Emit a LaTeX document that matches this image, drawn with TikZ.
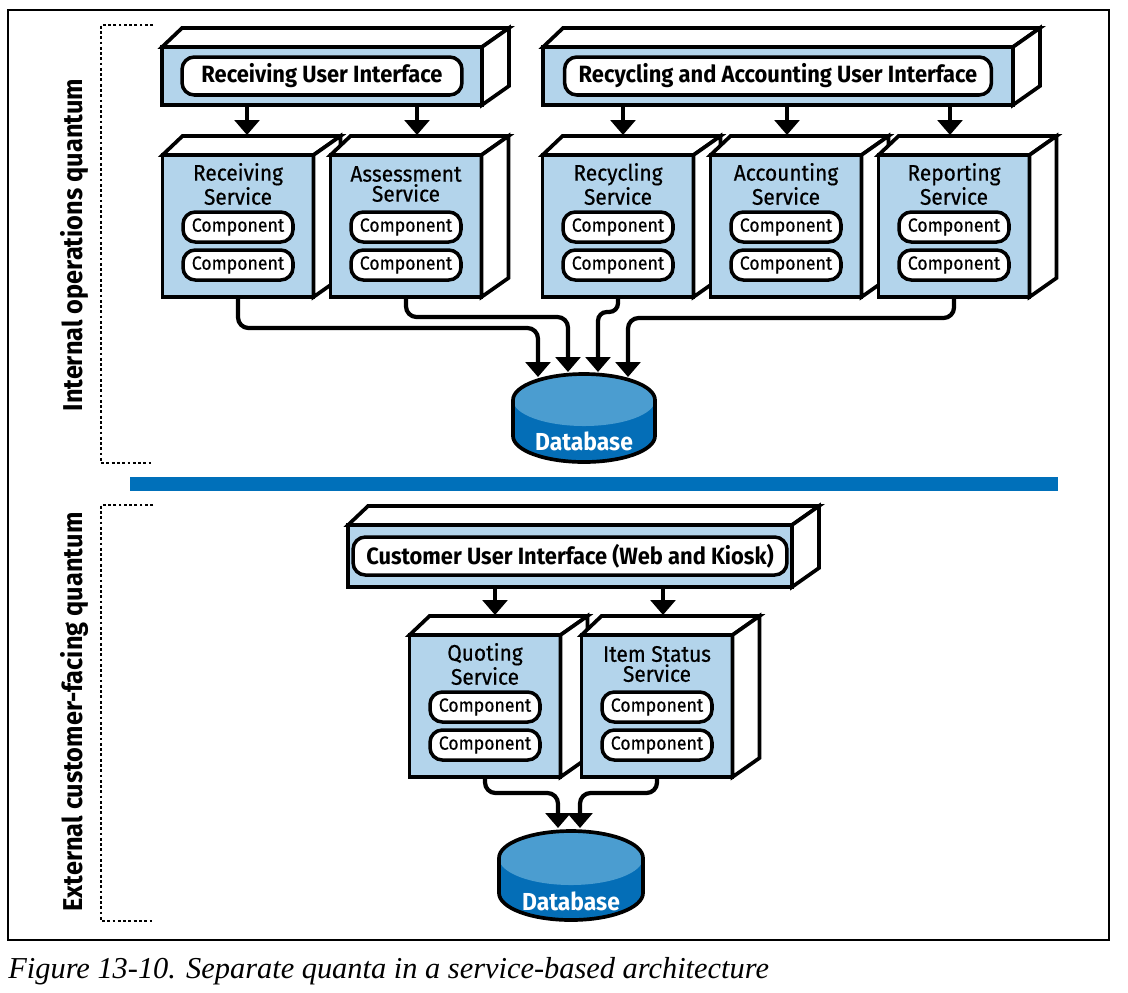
\documentclass[tikz,border=0pt]{standalone}
\usepackage{fontspec}
\newfontfamily\diagsans[FakeStretch=0.93]{Fira Sans}
\newfontfamily\diagmed[FakeStretch=0.93, FakeBold=0.5]{Fira Sans}
\newfontfamily\capserif{Liberation Serif}
\usetikzlibrary{arrows.meta,calc}
\definecolor{facefill}{RGB}{179,212,235}
\definecolor{barblue}{RGB}{0,112,186}
\definecolor{dbtop}{RGB}{75,157,208}
\definecolor{dbbody}{RGB}{4,110,183}
\begin{document}
\begin{tikzpicture}[x=0.02cm, y=-0.02cm]
  \tikzstyle{every node}=[font=\diagsans]
  \tikzstyle{front}=[draw, line width=2.1pt, fill=facefill, inner sep=0pt, outer sep=0pt]
  \tikzstyle{face}=[draw, line width=2.1pt, fill=white]
  \tikzstyle{pill}=[draw, line width=2pt, fill=white, rounded corners=7pt, inner sep=0pt]
  \tikzstyle{comp}=[pill, minimum width=2.2cm, minimum height=0.6cm, font=\diagmed\fontsize{10.8}{11}\selectfont]
  \tikzstyle{uitext}=[pill, minimum height=0.76cm, font=\diagsans\bfseries\fontsize{13.4}{13}\selectfont]
  \tikzstyle{svctitle}=[align=center, inner sep=0pt, font=\diagmed\fontsize{12.8}{11.4}\selectfont]
  \tikzstyle{arr}=[line width=2.4pt, -{Triangle[width=14pt,length=8.5pt]}, rounded corners=6pt]
  \tikzstyle{dblabel}=[text=white, inner sep=0pt, font=\diagsans\bfseries\fontsize{14}{14}\selectfont]
  \tikzstyle{side}=[rotate=90, inner sep=0pt, font=\diagsans\bfseries\fontsize{15.5}{15}\selectfont]
  \tikzstyle{quantum}=[line width=0.6pt, dash pattern=on 1.6pt off 1.4pt]
  \useasboundingbox (0,0) rectangle (1128,992);

  % frame, quanta and divider
  \draw[line width=0.8pt] (8,10) rectangle (1109,940);
  \draw[quantum] (153,25) -- (101,25) -- (101,463) -- (153,463);
  \draw[quantum] (153,505) -- (101,505) -- (101,921) -- (153,921);
  \node[side] (intq) at (74,245) {Internal operations quantum};
  \node[side] (extq) at (74,712) {External customer-facing quantum};
  \fill[barblue] (130,477) rectangle (1058,491);

  % user interfaces
  \foreach \nm/\x/\y/\w/\h/\pw/\ttl in {rui/322/76/6.4/1.16/5.6/{Receiving User Interface},
      rcui/778/76/9.4/1.16/8.54/{Recycling and Accounting User Interface},
      cui/570/556/8.88/1.24/8.68/{Customer User Interface (Web and Kiosk)}} {
    \node[front, minimum width=\w cm, minimum height=\h cm] (\nm) at (\x,\y) {};
    \draw[face] (\nm.north west) -- ++(20,-19) -- ($(\nm.north east)+(27,-19)$) -- (\nm.north east) -- cycle;
    \draw[face] (\nm.north east) -- ++(27,-19) -- ($(\nm.south east)+(27,-19)$) -- (\nm.south east) -- cycle;
    \node[uitext, minimum width=\pw cm] (\nm-t) at (\nm) {\ttl};
  }

  % services
  \foreach \nm/\x/\y/\ttl/\dx in {recv/238/226/{Receiving\\Service}/9,
      assess/406/226/{Assessment\\Service}/11, recyc/618/226/{Recycling\\Service}/5,
      acct/786/226/{Accounting\\Service}/1, report/954/226/{Reporting\\Service}/-4,
      quote/485/706/{Quoting\\Service}/10, item/657/706/{Item Status\\Service}/6} {
    \node[front, minimum width=3.02cm, minimum height=2.84cm] (\nm) at (\x,\y) {};
    \draw[face] (\nm.north west) -- ++(20,-19) -- ($(\nm.north east)+(27,-19)$) -- (\nm.north east) -- cycle;
    \draw[face] (\nm.north east) -- ++(27,-19) -- ($(\nm.south east)+(27,-19)$) -- (\nm.south east) -- cycle;
    \node[svctitle] (\nm-t) at ($(\nm.north)+(0,29)$) {\ttl};
    \node[comp] (\nm-c1) at ($(\nm.center)+(0,1)$) {Component};
    \node[comp] (\nm-c2) at ($(\nm.center)+(0,39)$) {Component};
    \coordinate (\nm-top) at ($(\nm.north)+(\dx,-20)$);
  }

  % databases
  \fill[dbbody] (513,400) -- (513,436) arc[start angle=180, end angle=0, x radius=71, y radius=26] -- (655,400) -- cycle;
  \fill[dbtop] (584,400) ellipse[x radius=71, y radius=26];
  \draw[line width=2.1pt] (513,400) arc[start angle=180, end angle=360, x radius=71, y radius=26]
    -- (655,436) arc[start angle=0, end angle=180, x radius=71, y radius=26] -- cycle;
  \node[dblabel] (db1) at (584,441) {Database};
  \fill[dbbody] (499,858) -- (499,893) arc[start angle=180, end angle=0, x radius=72, y radius=27] -- (643,858) -- cycle;
  \fill[dbtop] (571,858) ellipse[x radius=72, y radius=27];
  \draw[line width=2.1pt] (499,858) arc[start angle=180, end angle=360, x radius=72, y radius=27]
    -- (643,893) arc[start angle=0, end angle=180, x radius=72, y radius=27] -- cycle;
  \node[dblabel] (db2) at (571,901) {Database};
  \coordinate (db1a) at (538,377);
  \coordinate (db1b) at (568,372);
  \coordinate (db1c) at (598,372);
  \coordinate (db1d) at (628,377);
  \coordinate (db2a) at (558,828);
  \coordinate (db2b) at (580,828);

  % connectors
  \foreach \u/\s in {rui/recv, rui/assess, rcui/recyc, rcui/acct, rcui/report, cui/quote, cui/item}
    \draw[arr] (\u.south -| \s-top) -- (\s-top);
  \draw[arr] (recv.south) |- ($(db1a)+(0,-49)$) -- (db1a);
  \draw[arr] (assess.south) |- ($(db1b)+(0,-55)$) -- (db1b);
  \draw[arr, rounded corners=5pt] (recyc.south) -- ++(0,15) -| (db1c);
  \draw[arr] (report.south) |- ($(db1d)+(0,-59)$) -- (db1d);
  \draw[arr] (quote.south) |- ($(db2a)+(0,-35)$) -- (db2a);
  \draw[arr] (item.south) |- ($(db2b)+(0,-35)$) -- (db2b);

  \node[anchor=base west, inner sep=0pt, font=\capserif\itshape\fontsize{17.3}{19}\selectfont] (cap) at (8,978)
    {Figure 13-10. Separate quanta in a service-based architecture};
\end{tikzpicture}
\end{document}
